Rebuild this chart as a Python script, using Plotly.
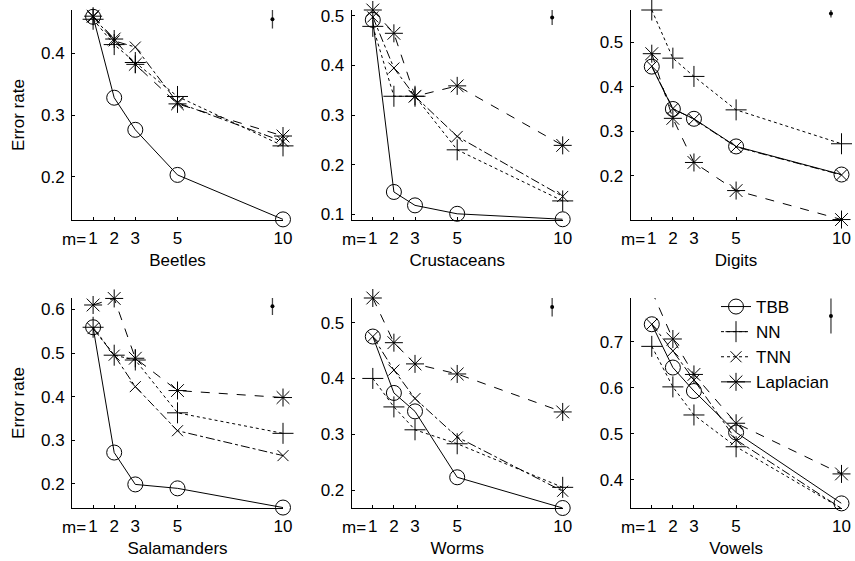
import plotly.graph_objects as go

m_values = [1, 2, 3, 5, 10]
tick_labels = ["1", "2", "3", "5", "10"]

datasets = ["Beetles", "Crustaceans", "Digits", "Salamanders", "Worms", "Vowels"]

tbb = {
    "Beetles":     [0.459, 0.328, 0.276, 0.203, 0.131],
    "Crustaceans": [0.492, 0.145, 0.118, 0.101, 0.090],
    "Digits":      [0.445, 0.350, 0.328, 0.266, 0.203],
    "Salamanders": [0.559, 0.272, 0.199, 0.190, 0.146],
    "Worms":       [0.475, 0.374, 0.341, 0.223, 0.168],
    "Vowels":      [0.738, 0.644, 0.593, 0.503, 0.349],
}
nn = {
    "Beetles":     [0.455, 0.414, 0.385, 0.330, 0.250],
    "Crustaceans": [0.479, 0.338, 0.338, 0.230, 0.127],
    "Digits":      [0.572, 0.464, 0.423, 0.348, 0.272],
    "Salamanders": [0.559, 0.495, 0.484, 0.363, 0.316],
    "Worms":       [0.400, 0.349, 0.308, 0.283, 0.205],
    "Vowels":      [0.690, 0.602, 0.541, 0.472, 0.338],
}
tnn = {
    "Beetles":     [0.459, 0.420, 0.410, 0.320, 0.257],
    "Crustaceans": [0.498, 0.395, 0.338, 0.257, 0.136],
    "Digits":      [0.446, 0.351, 0.327, 0.265, 0.202],
    "Salamanders": [0.556, 0.495, 0.423, 0.322, 0.265],
    "Worms":       [0.475, 0.415, 0.364, 0.295, 0.198],
    "Vowels":      [0.738, 0.680, 0.617, 0.487, 0.338],
}
laplacian = {
    "Beetles":     [0.460, 0.423, 0.382, 0.318, 0.266],
    "Crustaceans": [0.512, 0.465, 0.338, 0.359, 0.239],
    "Digits":      [0.474, 0.329, 0.230, 0.167, 0.102],
    "Salamanders": [0.610, 0.625, 0.488, 0.414, 0.398],
    "Worms":       [0.544, 0.464, 0.426, 0.408, 0.340],
    "Vowels":      [0.810, 0.706, 0.629, 0.523, 0.413],
}
err_x = 9.5
err_center = [0.455, 0.497, 0.564, 0.607, 0.528, 0.756]
err_half = [0.015, 0.015, 0.009, 0.020, 0.017, 0.038]

y_ranges = [[0.130, 0.470], [0.0885, 0.512], [0.101, 0.572],
            [0.145, 0.626], [0.168, 0.544], [0.339, 0.795]]

W, H = 855, 561
col_px = [(72, 283), (351.7, 562.7), (630.7, 841.5)]
row_px = [(10, 220), (298, 508)]

FONT = "Liberation Sans, Arial, sans-serif"
FS = 17

series = [
    ("TBB", tbb, "solid", "circle-open", 15),
    ("NN", nn, "dot", "cross-thin-open", 15),
    ("TNN", tnn, "dashdot", "x-thin-open", 11),
    ("Laplacian", laplacian, "dash", "asterisk-open", 15),
]

fig = go.Figure()
layout = dict(
    width=W, height=H, margin=dict(l=0, r=0, t=0, b=0, autoexpand=False),
    paper_bgcolor="white", plot_bgcolor="white",
    font=dict(family=FONT, size=FS, color="black"),
    showlegend=True,
    legend=dict(x=716 / W, y=1 - 289 / H, xanchor="left", yanchor="top",
                bgcolor="rgba(0,0,0,0)", borderwidth=0,
                font=dict(family=FONT, size=17), tracegroupgap=0,
                itemwidth=30),
)
annotations = []

for i, name in enumerate(datasets):
    r, c = divmod(i, 3)
    k = "" if i == 0 else str(i + 1)
    xa, ya = "x" + k, "y" + k
    x0, x1 = col_px[c]
    y0, y1 = row_px[r]
    for label, d, dash, sym, sz in series:
        fig.add_trace(go.Scatter(
            x=m_values, y=d[name], mode="lines+markers", xaxis=xa, yaxis=ya,
            line=dict(color="black", width=1, dash=dash),
            marker=dict(symbol=sym, size=sz, color="black",
                        line=dict(color="black", width=1)),
            cliponaxis=False, showlegend=False, name=label))
    fig.add_trace(go.Scatter(
        x=[err_x], y=[err_center[i]], mode="markers", xaxis=xa, yaxis=ya,
        marker=dict(size=4, color="black"),
        error_y=dict(type="constant", value=err_half[i], color="#444",
                     thickness=1.3, width=0),
        cliponaxis=False, showlegend=False))
    layout["xaxis" + k] = dict(
        domain=[x0 / W, x1 / W], anchor=ya, range=[0, 10], automargin=False,
        tickmode="array", tickvals=m_values, ticktext=tick_labels,
        ticks="inside", ticklen=3, tickcolor="black",
        showline=True, linecolor="black", linewidth=1,
        showgrid=False, zeroline=False, ticklabelstandoff=3,
        tickfont=dict(family=FONT, size=FS),
        title=dict(text=name, standoff=6, font=dict(family=FONT, size=FS)))
    layout["yaxis" + k] = dict(
        domain=[1 - y1 / H, 1 - y0 / H], anchor=xa, range=y_ranges[i],
        automargin=False,
        dtick=0.1, tick0=0, ticks="inside", ticklen=3, tickcolor="black",
        showline=True, linecolor="black", linewidth=1,
        showgrid=False, zeroline=False, ticklabelstandoff=3,
        tickfont=dict(family=FONT, size=FS),
        title=dict(text="Error rate" if c == 0 else "", standoff=12,
                   font=dict(family=FONT, size=FS)))
    annotations.append(dict(
        text="m=", xref=xa, x=1, xanchor="right", xshift=-5,
        yref="paper", y=1 - y1 / H, yanchor="top", yshift=-8,
        showarrow=False, font=dict(family=FONT, size=FS)))

# legend-only entries
for label, d, dash, sym, sz in series:
    ldash = "solid" if label in ("TBB", "Laplacian") else "dot"
    fig.add_trace(go.Scatter(
        x=[None], y=[None], mode="lines+markers", name=label,
        line=dict(color="black", width=1, dash=ldash),
        marker=dict(symbol=sym, size=sz, color="black",
                    line=dict(color="black", width=1)),
        showlegend=True))

layout["annotations"] = annotations
fig.update_layout(**layout)
fig.write_html("out.html", config={"displayModeBar": False},
               post_script="document.body.style.margin='0';"
                           "document.body.style.overflow='hidden';")
